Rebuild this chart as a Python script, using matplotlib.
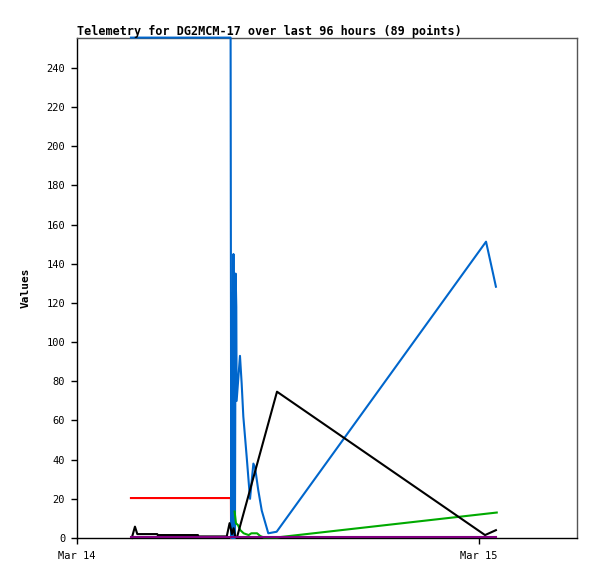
import datetime as dt
import matplotlib
matplotlib.use("Agg")
import matplotlib.pyplot as plt

# ---- data (hours after Mar 14 00:00, value) ----
base = dt.datetime(2024, 3, 14)

red_h = [3.22, 9.19, 9.20]
red_v = [20.4, 20.4, 0.0]

blue_h = [3.22, 9.17, 9.19, 9.21, 9.24, 9.26, 9.29, 9.31, 9.34, 9.37, 9.40,
          9.43, 9.47, 9.51, 9.53, 9.73, 9.83, 9.93, 10.13, 10.33, 10.53,
          10.63, 10.82, 11.03, 11.42, 11.92, 24.42, 24.66, 24.84, 25.01]
blue_v = [255.5, 255.5, 128, 0, 125, 0, 120, 0, 145, 0, 100,
          0, 135, 118, 70, 93, 79, 62, 41.5, 20, 38,
          36, 24.5, 14, 2.4, 3.2, 151.3, 142, 135, 128.3]

green_h = [9.41, 9.49, 9.61, 9.75, 9.95, 10.25, 10.41, 10.75, 10.94, 11.15,
           11.94, 25.06]
green_v = [13.5, 7.5, 6.6, 4.0, 2.4, 1.5, 2.4, 2.4, 1.0, 0.3, 0.3, 13.0]

black_h = [3.27, 3.46, 3.60, 4.79, 4.82, 7.22, 7.25, 8.94, 9.11, 9.25, 9.35,
           9.45, 9.55, 11.94, 24.36, 25.01]
black_v = [0.0, 5.8, 2.0, 2.0, 1.5, 1.5, 0.8, 0.8, 7.6, 2.0, 5.0,
           0.5, 0.3, 74.7, 1.5, 4.0]

purple_h = [3.22, 25.0]
purple_v = [0.3, 0.3]

x_ticks_days = [0, 1]
x_tick_labels = ["Mar 14", "Mar 15"]
y_ticks = list(range(0, 241, 20))

title = "Telemetry for DG2MCM-17 over last 96 hours (89 points)"


def to_dt(hs):
    return [base + dt.timedelta(hours=h) for h in hs]


W, H = 597, 579
fig = plt.figure(figsize=(W / 100, H / 100), dpi=100)
ax = fig.add_axes([77 / W, (579 - 538) / H, 500 / W, 500 / H])

font = "DejaVu Sans Mono"
lw = 1.5
kw = dict(lw=lw, clip_on=False, zorder=3)
ax.plot(to_dt(red_h), red_v, color="#ff0000", **kw)
ax.plot(to_dt(blue_h), blue_v, color="#0066cc", **kw)
ax.plot(to_dt(green_h), green_v, color="#00aa00", **kw)
ax.plot(to_dt(black_h), black_v, color="#000000", **kw)
ax.plot(to_dt(purple_h), purple_v, color="#800080", **kw)

ax.set_xlim(base, base + dt.timedelta(hours=500 / 402 * 24))
ax.set_ylim(0, 255.3)

ax.set_xticks([base + dt.timedelta(days=d) for d in x_ticks_days])
ax.set_xticklabels(x_tick_labels, fontfamily=font, fontsize=7.5)
ax.set_yticks(y_ticks)
ax.set_yticklabels([str(v) for v in y_ticks], fontfamily=font, fontsize=7.5)
ax.tick_params(axis="both", direction="out", length=4.5, width=1, color="black")
ax.tick_params(axis="y", pad=4)
ax.tick_params(axis="x", pad=5)

for s in ["left", "bottom"]:
    ax.spines[s].set_color("black")
    ax.spines[s].set_linewidth(1)
for s in ["top", "right"]:
    ax.spines[s].set_color("#555555")
    ax.spines[s].set_linewidth(1)

ax.set_ylabel("Values", fontfamily=font, fontweight="bold", fontsize=8)
ax.yaxis.set_label_coords(-0.092, 0.5)

fig.text(77 / W, (579 - 31) / H, title, fontfamily=font, fontweight="bold",
         fontsize=8.45, ha="left", va="center")

fig.savefig("out.png", dpi=100, facecolor="white")
